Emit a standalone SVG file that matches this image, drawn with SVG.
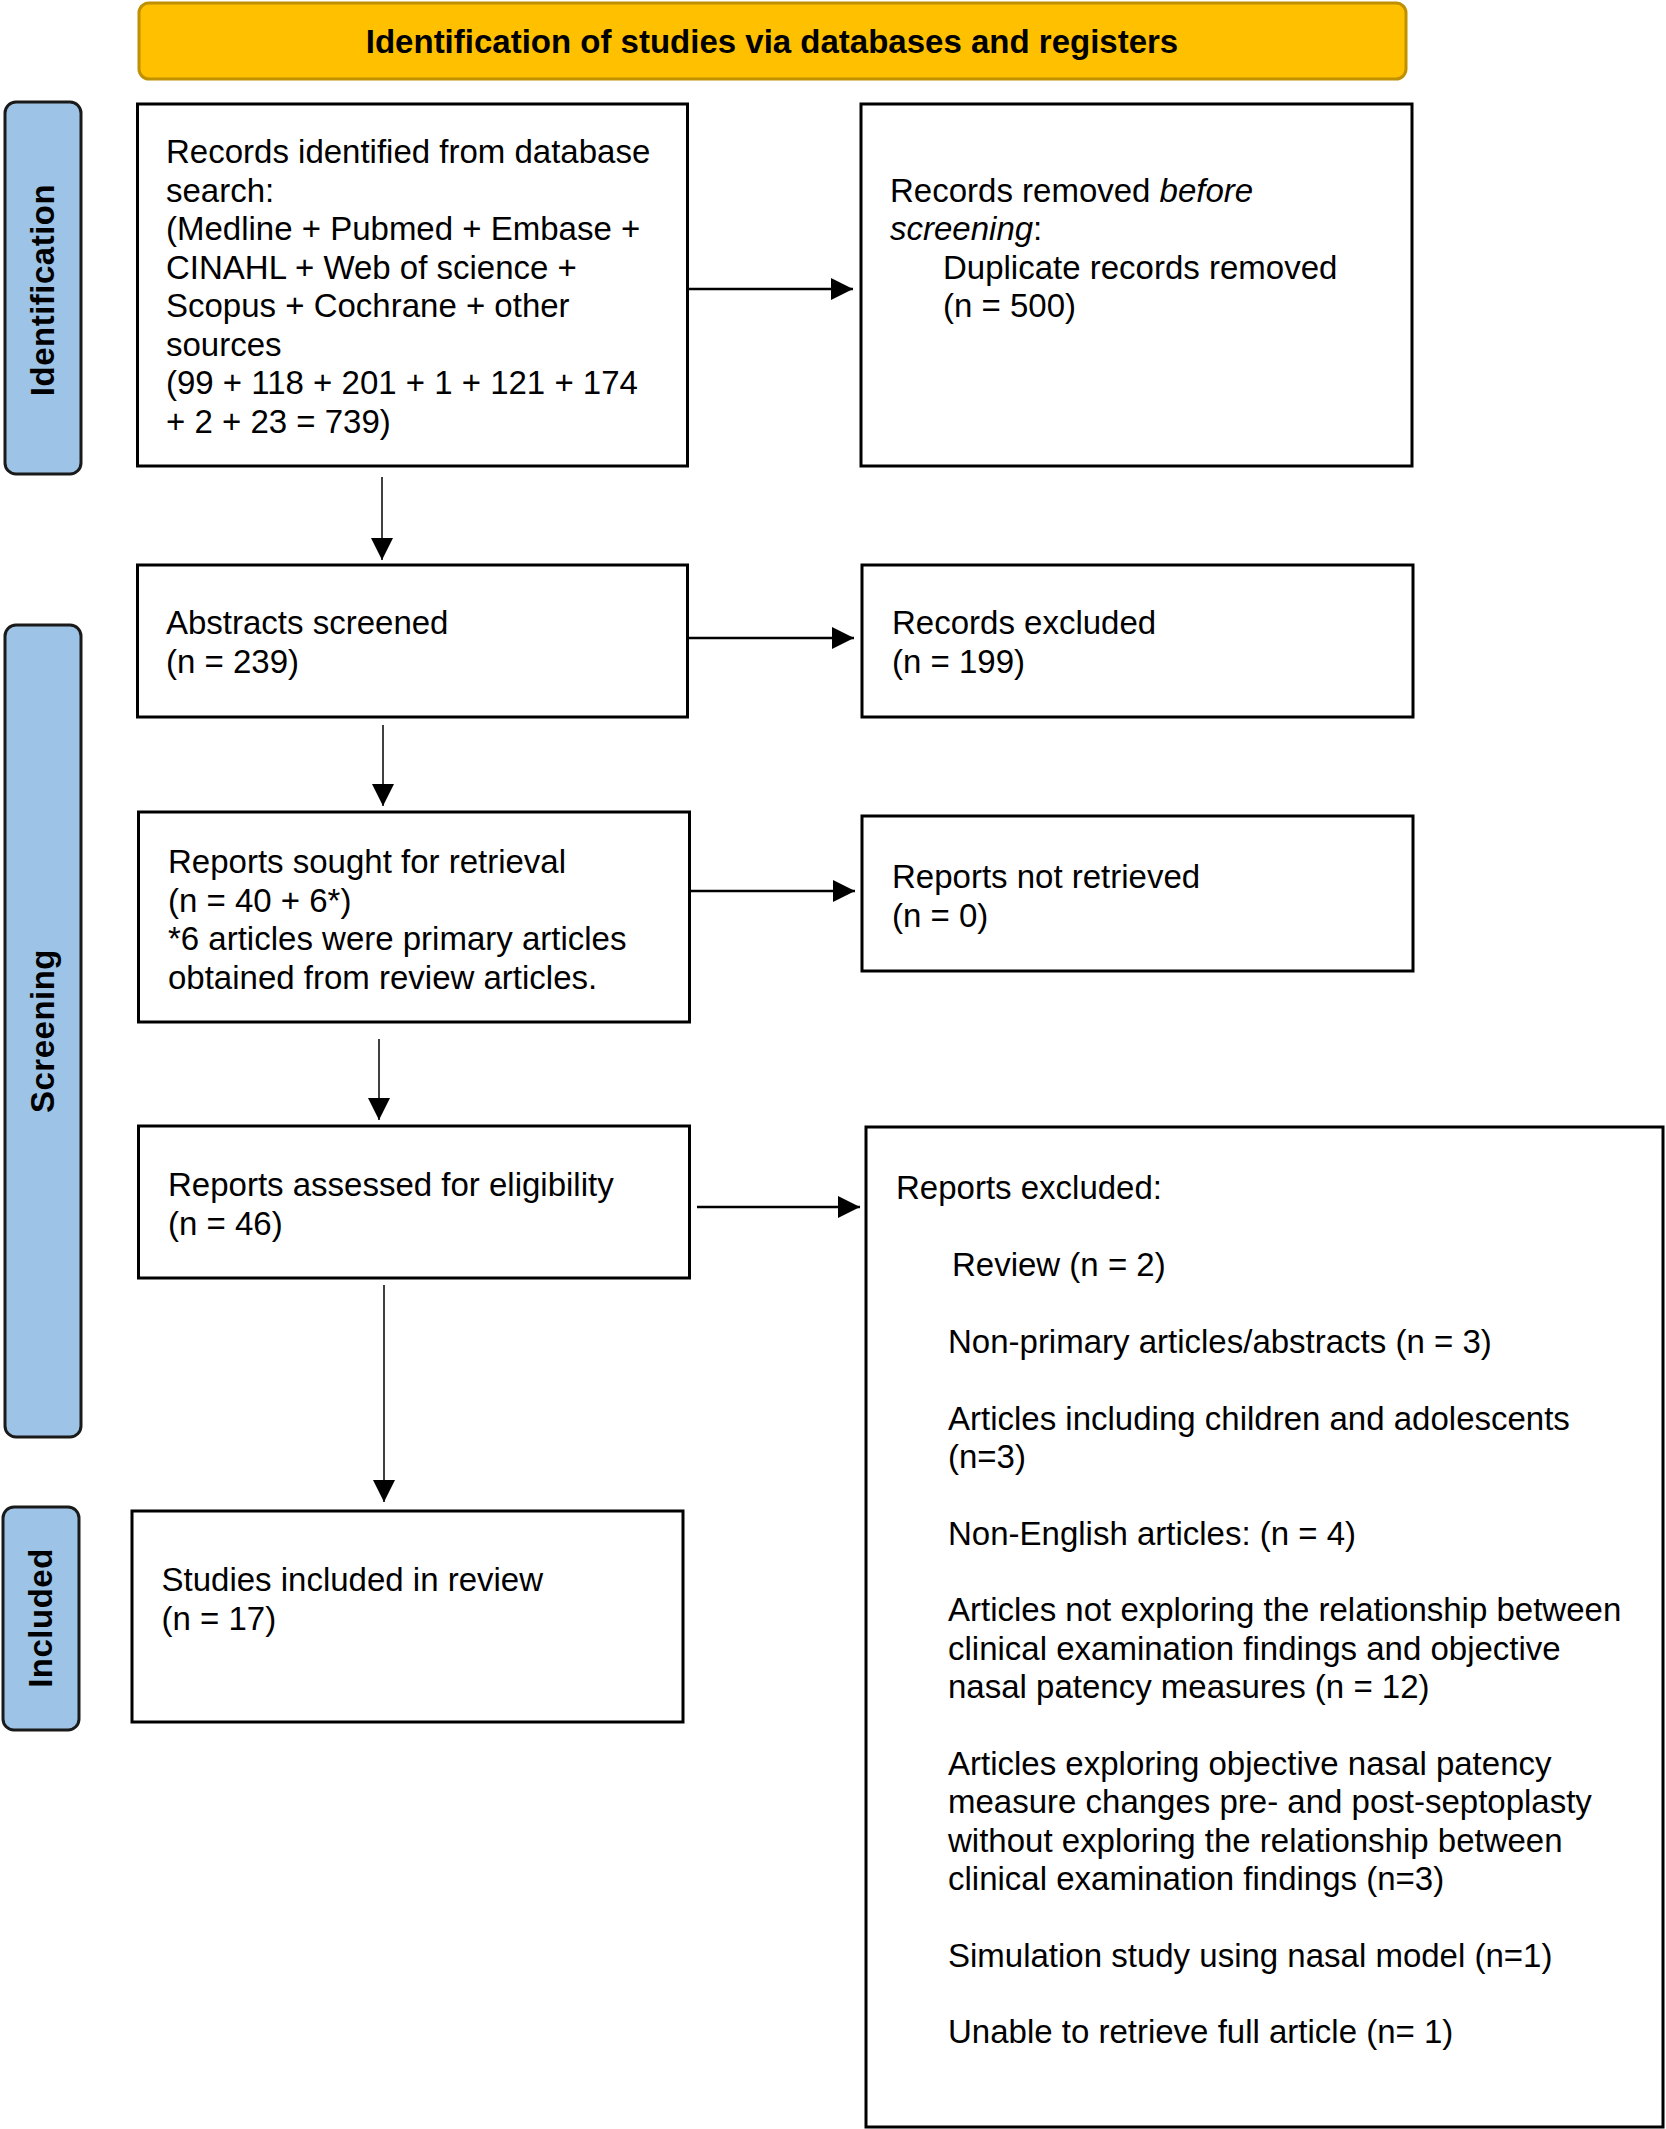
<svg xmlns="http://www.w3.org/2000/svg" width="1666" height="2129" viewBox="0 0 1666 2129">
<style>
text{font-family:"Liberation Sans",Arial,sans-serif;font-size:33px;fill:#000}
.box{fill:#fff;stroke:#000;stroke-width:3}
.side{fill:#9DC3E6;stroke:#1a1a1a;stroke-width:3}
.side-t{font-size:33px;font-weight:bold;letter-spacing:0.5px;text-anchor:middle}
.hdr{fill:#FFC000;stroke:#BF9000;stroke-width:3}
.h{stroke:#000;stroke-width:2.5;fill:none;marker-end:url(#ah)}
.v{stroke:#000;stroke-width:1.5;fill:none;marker-end:url(#ah)}
</style>
<defs>
<marker id="ah" markerUnits="userSpaceOnUse" markerWidth="22" markerHeight="22" refX="22" refY="11" orient="auto">
<path d="M0,0 L22,11 L0,22 z" fill="#000"/>
</marker>
</defs>
<rect width="1666" height="2129" fill="#fff"/>
<g id="header">
<rect class="hdr" x="139" y="3" width="1267" height="76" rx="10"/>
<text x="772" y="53" text-anchor="middle" font-weight="bold">Identification of studies via databases and registers</text>
</g>
<g id="side-identification">
<rect class="side" x="5" y="102" width="76" height="372" rx="11"/>
<text class="side-t" transform="translate(54,290) rotate(-90)">Identification</text>
</g>
<g id="side-screening">
<rect class="side" x="5" y="625" width="76" height="812" rx="11"/>
<text class="side-t" transform="translate(54,1031) rotate(-90)">Screening</text>
</g>
<g id="side-included">
<rect class="side" x="3" y="1507" width="76" height="223" rx="11"/>
<text class="side-t" transform="translate(52,1618) rotate(-90)">Included</text>
</g>
<g id="records-identified">
<rect class="box" x="137.5" y="104" width="550" height="362"/>
<text x="166" y="163">Records identified from database</text>
<text x="166" y="201.5">search:</text>
<text x="166" y="240">(Medline + Pubmed + Embase +</text>
<text x="166" y="278.5">CINAHL + Web of science +</text>
<text x="166" y="317">Scopus + Cochrane + other</text>
<text x="166" y="355.5">sources</text>
<text x="166" y="394">(99 + 118 + 201 + 1 + 121 + 174</text>
<text x="166" y="432.5">+ 2 + 23 = 739)</text>
</g>
<g id="records-removed">
<rect class="box" x="861" y="104" width="551" height="362"/>
<text x="890" y="201.5">Records removed <tspan font-style="italic">before</tspan></text>
<text x="890" y="240"><tspan font-style="italic">screening</tspan>:</text>
<text x="943" y="278.5">Duplicate records removed</text>
<text x="943" y="317">(n = 500)</text>
</g>
<g id="abstracts-screened">
<rect class="box" x="137.5" y="565" width="550" height="152"/>
<text x="166" y="634">Abstracts screened</text>
<text x="166" y="672.5">(n = 239)</text>
</g>
<g id="records-excluded">
<rect class="box" x="862" y="565" width="551" height="152"/>
<text x="892" y="634">Records excluded</text>
<text x="892" y="672.5">(n = 199)</text>
</g>
<g id="reports-sought">
<rect class="box" x="138.5" y="812" width="551" height="210"/>
<text x="168" y="873">Reports sought for retrieval</text>
<text x="168" y="911.5">(n = 40 + 6*)</text>
<text x="168" y="950">*6 articles were primary articles</text>
<text x="168" y="988.5">obtained from review articles.</text>
</g>
<g id="reports-not-retrieved">
<rect class="box" x="862" y="816" width="551" height="155"/>
<text x="892" y="888">Reports not retrieved</text>
<text x="892" y="926.5">(n = 0)</text>
</g>
<g id="reports-assessed">
<rect class="box" x="138.5" y="1126" width="551" height="152"/>
<text x="168" y="1196">Reports assessed for eligibility</text>
<text x="168" y="1234.5">(n = 46)</text>
</g>
<g id="reports-excluded">
<rect class="box" x="866" y="1127" width="797" height="1000"/>
<text x="896" y="1199">Reports excluded:</text>
<text x="952" y="1276">Review (n = 2)</text>
<text x="948" y="1353">Non-primary articles/abstracts (n = 3)</text>
<text x="948" y="1429.5">Articles including children and adolescents</text>
<text x="948" y="1468">(n=3)</text>
<text x="948" y="1544.5">Non-English articles: (n = 4)</text>
<text x="948" y="1621">Articles not exploring the relationship between</text>
<text x="948" y="1659.5">clinical examination findings and objective</text>
<text x="948" y="1698">nasal patency measures (n = 12)</text>
<text x="948" y="1774.5">Articles exploring objective nasal patency</text>
<text x="948" y="1813">measure changes pre- and post-septoplasty</text>
<text x="948" y="1851.5">without exploring the relationship between</text>
<text x="948" y="1890">clinical examination findings (n=3)</text>
<text x="948" y="1966.5">Simulation study using nasal model (n=1)</text>
<text x="948" y="2043">Unable to retrieve full article (n= 1)</text>
</g>
<g id="studies-included">
<rect class="box" x="132" y="1511" width="551" height="211"/>
<text x="161.5" y="1591">Studies included in review</text>
<text x="161.5" y="1629.5">(n = 17)</text>
</g>
<g id="connectors">
<line class="h" x1="689" y1="289" x2="853" y2="289"/>
<line class="h" x1="689" y1="638" x2="854" y2="638"/>
<line class="h" x1="691" y1="891" x2="855" y2="891"/>
<line class="h" x1="697" y1="1207" x2="860" y2="1207"/>
<line class="v" x1="382" y1="477" x2="382" y2="560"/>
<line class="v" x1="383" y1="725" x2="383" y2="806"/>
<line class="v" x1="379" y1="1039" x2="379" y2="1120"/>
<line class="v" x1="384" y1="1285" x2="384" y2="1502"/>
</g>
</svg>
